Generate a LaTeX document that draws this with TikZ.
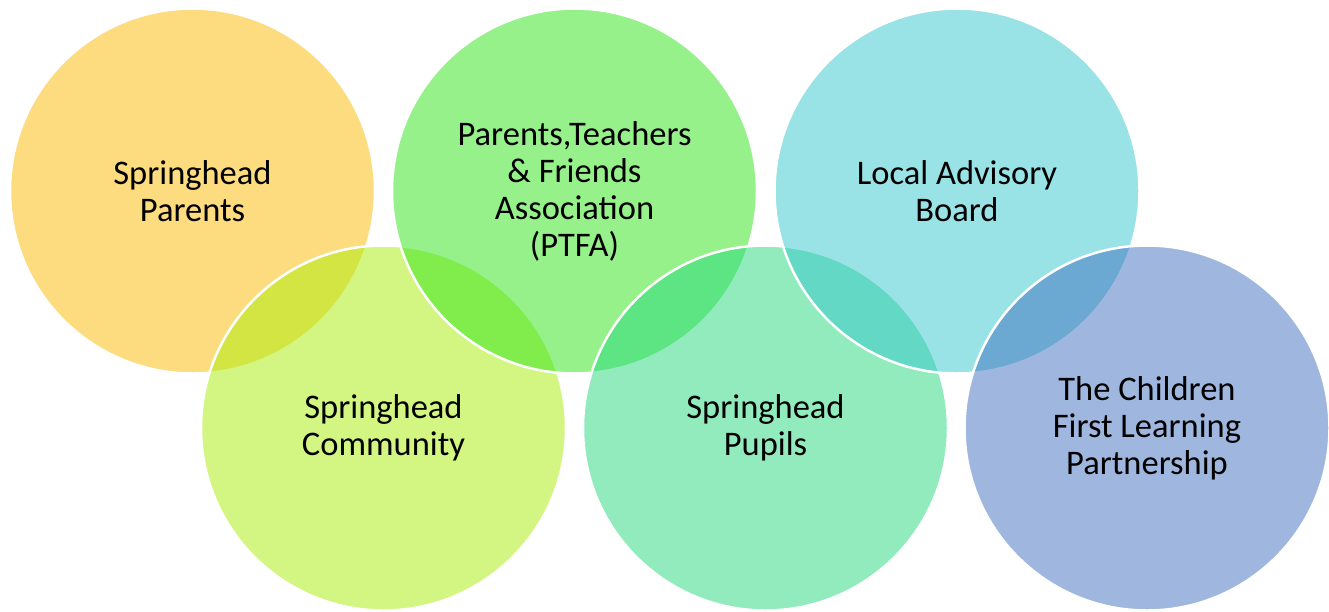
\documentclass[tikz,border=0pt]{standalone}
\usepackage{fontspec}
\setmainfont{Carlito}
\begin{document}
\begin{tikzpicture}[x=1pt,y=-1pt,
  bubble/.style={circle, minimum size=365pt, inner sep=0pt, draw=white,
    line width=2.5pt, fill opacity=0.5, text opacity=1, draw opacity=1,
    align=center, text=black,
    font=\fontsize{34.5pt}{37pt}\selectfont},
]
\definecolor{cParents}{RGB}{253,187,1}
\definecolor{cCommunity}{RGB}{169,239,9}
\definecolor{cPtfa}{RGB}{49,229,25}
\definecolor{cPupils}{RGB}{37,217,125}
\definecolor{cAdvisory}{RGB}{53,199,205}
\definecolor{cPartner}{RGB}{65,113,193}
\useasboundingbox (0,0) rectangle (1329,611);
\fill[white] (0,0) rectangle (1329,611);
% drawn in alternating order so later circles overlap earlier ones
\node[bubble, fill=cParents]   (parents)   at (192.5,191) {Springhead\\Parents};
\node[bubble, fill=cCommunity] (community) at (383.5,428) {Springhead\\Community};
\node[bubble, fill=cPtfa]      (ptfa)      at (574.5,191) {Parents,Teachers\\\& Friends\\Association\\(PTFA)};
\node[bubble, fill=cPupils]    (pupils)    at (765.5,428) {Springhead\\Pupils};
\node[bubble, fill=cAdvisory]  (advisory)  at (957,191)   {Local Advisory\\Board};
\node[bubble, fill=cPartner]   (partner)   at (1147,428)  {The Children\\First Learning\\Partnership};
\end{tikzpicture}
\end{document}
